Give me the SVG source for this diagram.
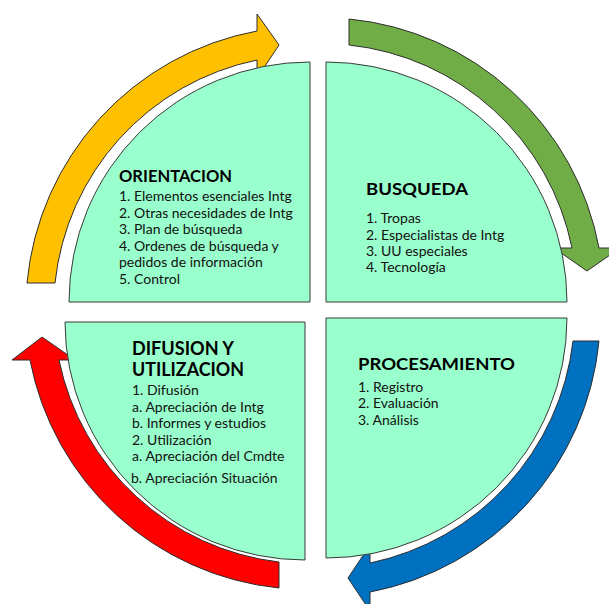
<svg xmlns="http://www.w3.org/2000/svg" width="609" height="604" viewBox="0 0 609 604">
  <style>
    .quad { fill: #99FFCC; stroke: #3a3a3a; stroke-width: 1; }
    .arrow { stroke: #2e2e2e; stroke-width: 1; stroke-linejoin: miter; }
    .title { font-family: Lato, "Liberation Sans", sans-serif; font-weight: bold; fill: #000; }
    .item { font-family: Lato, "Liberation Sans", sans-serif; font-size: 14px; fill: #111; }
  </style>
  <rect width="609" height="604" fill="#ffffff"/>
  <g id="connectors">
    <path id="arrow-orientacion" class="arrow" fill="#FFC000" d="M 27 283 A 283 283 0 0 1 257 31 L 257 14 L 279 45 L 257 78 L 257 60 A 255 255 0 0 0 55 283 Z"/>
    <path id="arrow-busqueda" class="arrow" fill="#70AD47" d="M 349 19 A 282 282 0 0 1 599 248 L 620 248 L 587 271 L 554 248 L 572 248 A 255 255 0 0 0 349 45 Z"/>
    <path id="arrow-procesamiento" class="arrow" fill="#0070C0" d="M 599 341 A 283 283 0 0 1 370 592 L 370 611 L 348 578 L 370 545 L 370 563 A 257 257 0 0 0 573 341 Z"/>
    <path id="arrow-difusion" class="arrow" fill="#FF0000" d="M 279 588 A 283 283 0 0 1 30 360 L 12 360 L 42 337 L 75 360 L 59 360 A 255 255 0 0 0 279 562 Z"/>
  </g>
  <g id="node-orientacion">
    <path class="quad" d="M 310 62 L 310 302 L 69 302 A 241 240 0 0 1 310 62 Z"/>
    <text class="title" x="119" y="182" font-size="17" textLength="113" lengthAdjust="spacingAndGlyphs">ORIENTACION</text>
    <text class="item" x="119" y="201">1. Elementos esenciales Intg</text>
    <text class="item" x="119" y="217.5">2. Otras necesidades de Intg</text>
    <text class="item" x="119" y="234">3. Plan de búsqueda</text>
    <text class="item" x="119" y="250.5">4. Ordenes de búsqueda y</text>
    <text class="item" x="119" y="267">pedidos de información</text>
    <text class="item" x="119" y="283.5">5. Control</text>
  </g>
  <g id="node-busqueda">
    <path class="quad" d="M 326 62 A 241 240 0 0 1 567 302 L 326 302 Z"/>
    <text class="title" x="366" y="195" font-size="17" textLength="102" lengthAdjust="spacingAndGlyphs">BUSQUEDA</text>
    <text class="item" x="366" y="223">1. Tropas</text>
    <text class="item" x="366" y="239.5">2. Especialistas de Intg</text>
    <text class="item" x="366" y="256">3. UU especiales</text>
    <text class="item" x="366" y="272">4. Tecnología</text>
  </g>
  <g id="node-procesamiento">
    <path class="quad" d="M 326 318 L 567 318 A 241 240 0 0 1 326 558 Z"/>
    <text class="title" x="358" y="370" font-size="17" textLength="157" lengthAdjust="spacingAndGlyphs">PROCESAMIENTO</text>
    <text class="item" x="358" y="391.5">1. Registro</text>
    <text class="item" x="358" y="408">2. Evaluación</text>
    <text class="item" x="358" y="424.5">3. Análisis</text>
  </g>
  <g id="node-difusion">
    <path class="quad" d="M 65 322 L 305 322 L 305 560 A 240 238 0 0 1 65 322 Z"/>
    <text class="title" x="132" y="355" font-size="18" textLength="102" lengthAdjust="spacingAndGlyphs">DIFUSION Y</text>
    <text class="title" x="132" y="376" font-size="18" textLength="112" lengthAdjust="spacingAndGlyphs">UTILIZACION</text>
    <text class="item" x="132" y="395">1. Difusión</text>
    <text class="item" x="132" y="411.5">a. Apreciación de Intg</text>
    <text class="item" x="132" y="428">b. Informes y estudios</text>
    <text class="item" x="132" y="444.5">2. Utilización</text>
    <text class="item" x="132" y="461">a. Apreciación del Cmdte</text>
    <text class="item" x="131" y="483">b. Apreciación Situación</text>
  </g>
</svg>
